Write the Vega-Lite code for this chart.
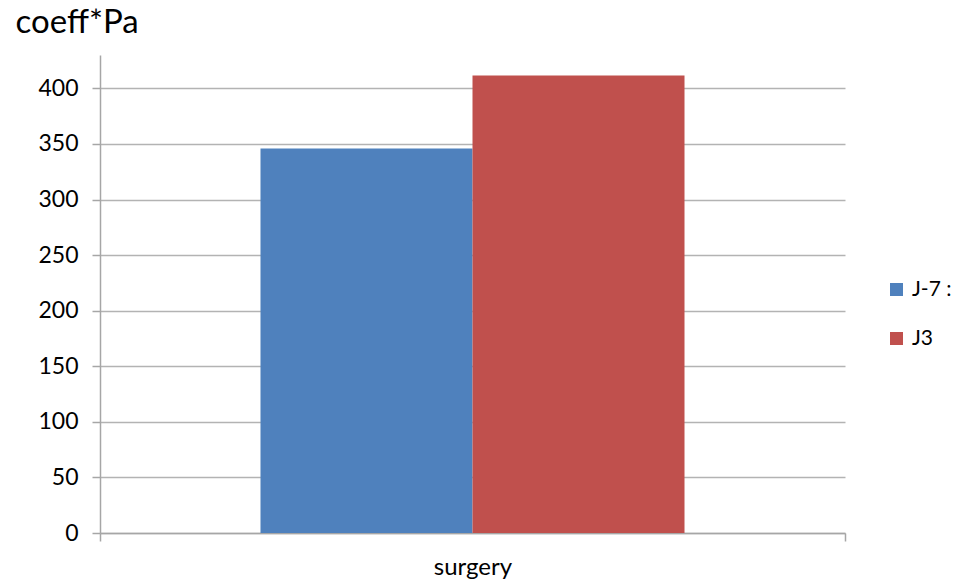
{
  "$schema": "https://vega.github.io/schema/vega-lite/v6.json",
  "width": 745,
  "height": 478,
  "autosize": "none",
  "padding": {"left": 100, "top": 55, "right": 109, "bottom": 53},
  "background": "white",
  "config": {
    "font": "Lato",
    "view": {"stroke": null}
  },
  "data": {
    "values": [
      {"category": "surgery", "series": "J-7 :", "value": 346},
      {"category": "surgery", "series": "J3", "value": 411.5}
    ]
  },
  "mark": {"type": "bar", "stroke": null},
  "encoding": {
    "x": {
      "field": "category",
      "type": "nominal",
      "scale": {"paddingInner": 0, "paddingOuter": 0},
      "axis": {
        "title": null,
        "labelAngle": 0,
        "labelFontSize": 24,
        "labelColor": "#000000",
        "labelPadding": 14,
        "tickBand": "extent",
        "ticks": true,
        "tickSize": 8,
        "tickColor": "#a6a6a6",
        "tickWidth": 1.5,
        "domainColor": "#a6a6a6",
        "domainWidth": 1.5,
        "grid": false
      }
    },
    "xOffset": {
      "field": "series",
      "type": "nominal",
      "scale": {"paddingInner": 0, "paddingOuter": 0.757}
    },
    "y": {
      "field": "value",
      "type": "quantitative",
      "scale": {"domain": [0, 430], "nice": false},
      "axis": {
        "values": [0, 50, 100, 150, 200, 250, 300, 350, 400],
        "title": "coeff*Pa",
        "titleAngle": 0,
        "titleAlign": "left",
        "titleBaseline": "alphabetic",
        "titleX": -85,
        "titleY": -23,
        "titleFontSize": 33,
        "titleFontWeight": "normal",
        "titleColor": "#000000",
        "labelFontSize": 23,
        "labelColor": "#000000",
        "labelPadding": 14,
        "tickSize": 8,
        "tickColor": "#a6a6a6",
        "tickWidth": 1.5,
        "domainColor": "#a6a6a6",
        "domainWidth": 1.5,
        "gridColor": "#b3b3b3",
        "gridWidth": 1.5
      }
    },
    "color": {
      "field": "series",
      "type": "nominal",
      "scale": {"domain": ["J-7 :", "J3"], "range": ["#4F81BD", "#C0504D"]},
      "legend": {
        "title": null,
        "orient": "none",
        "legendX": 786,
        "legendY": 224,
        "padding": 0,
        "symbolType": "square",
        "symbolSize": 169,
        "symbolStrokeWidth": 0,
        "labelFontSize": 21,
        "labelColor": "#000000",
        "labelOffset": 5,
        "labelLimit": 200,
        "rowPadding": 27
      }
    }
  }
}
